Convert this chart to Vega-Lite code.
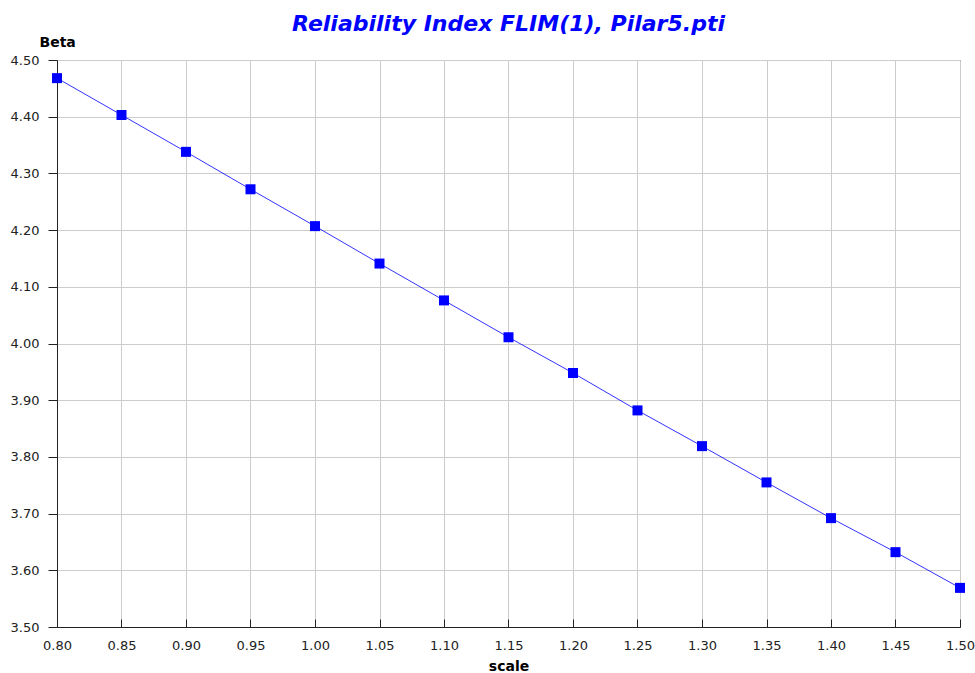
{
  "$schema": "https://vega.github.io/schema/vega-lite/v6.json",
  "width": 903,
  "height": 567,
  "autosize": {"type": "none"},
  "padding": {"left": 57, "top": 60, "right": 15, "bottom": 46},
  "background": "white",
  "title": {
    "text": "Reliability Index FLIM(1), Pilar5.pti",
    "font": "DejaVu Sans",
    "fontSize": 22,
    "fontWeight": "bold",
    "fontStyle": "italic",
    "color": "#0000ff",
    "anchor": "middle",
    "offset": -1
  },
  "config": {
    "view": {"stroke": "#444", "strokeWidth": 1},
    "axis": {
      "labelFont": "DejaVu Sans",
      "labelFontSize": 13,
      "labelColor": "#222",
      "titleFont": "DejaVu Sans",
      "titleFontSize": 14,
      "titleFontWeight": "bold",
      "titleColor": "#000",
      "gridColor": "#cccccc",
      "gridWidth": 1,
      "domainColor": "#222",
      "tickColor": "#222"
    }
  },
  "data": {
    "values": [
      {"scale": 0.80, "beta": 4.468},
      {"scale": 0.85, "beta": 4.403},
      {"scale": 0.90, "beta": 4.338},
      {"scale": 0.95, "beta": 4.272},
      {"scale": 1.00, "beta": 4.207},
      {"scale": 1.05, "beta": 4.141},
      {"scale": 1.10, "beta": 4.076},
      {"scale": 1.15, "beta": 4.011},
      {"scale": 1.20, "beta": 3.948},
      {"scale": 1.25, "beta": 3.882},
      {"scale": 1.30, "beta": 3.819},
      {"scale": 1.35, "beta": 3.755},
      {"scale": 1.40, "beta": 3.692},
      {"scale": 1.45, "beta": 3.632},
      {"scale": 1.50, "beta": 3.569}
    ]
  },
  "encoding": {
    "x": {
      "field": "scale",
      "type": "quantitative",
      "scale": {"domain": [0.8, 1.5], "nice": false, "zero": false},
      "axis": {
        "title": "scale",
        "values": [0.8, 0.85, 0.9, 0.95, 1.0, 1.05, 1.1, 1.15, 1.2, 1.25, 1.3, 1.35, 1.4, 1.45, 1.5],
        "format": ".2f",
        "tickSize": -8,
        "labelPadding": 20,
        "labelFlush": false,
        "titleY": 43,
        "titleBaseline": "alphabetic"
      }
    },
    "y": {
      "field": "beta",
      "type": "quantitative",
      "scale": {"domain": [3.5, 4.5], "nice": false, "zero": false},
      "axis": {
        "title": "Beta",
        "values": [3.5, 3.6, 3.7, 3.8, 3.9, 4.0, 4.1, 4.2, 4.3, 4.4, 4.5],
        "format": ".2f",
        "tickSize": 9,
        "labelPadding": 9,
        "labelFlush": false,
        "titleAngle": 0,
        "titleAlign": "left",
        "titleBaseline": "alphabetic",
        "titleX": -18,
        "titleY": -14
      }
    }
  },
  "layer": [
    {
      "mark": {"type": "line", "color": "#0000ff", "strokeWidth": 1, "opacity": 0.8}
    },
    {
      "mark": {"type": "square", "color": "#0000ff", "size": 100, "opacity": 1, "filled": true}
    }
  ]
}
